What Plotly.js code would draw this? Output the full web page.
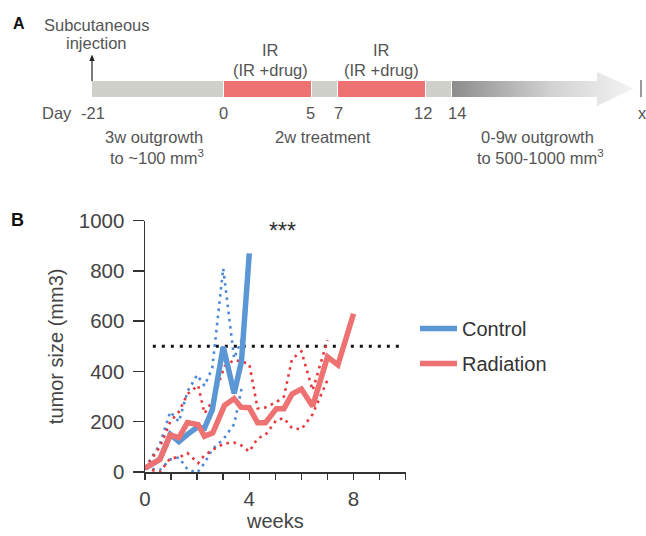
<!DOCTYPE html>
<html><head><meta charset="utf-8">
<script src="https://cdn.plot.ly/plotly-3.0.1.min.js"></script>
<style>html,body{margin:0;padding:0;background:#fff}#chart{width:646px;height:536px}</style>
</head><body><div id="chart"></div>
<script>
// ---------- DATA (panel B) ----------
const weeksControl   = [0, 0.57, 0.97, 1.3, 1.63, 2.0, 2.28, 2.58, 3.0, 3.42, 3.7, 4.0];
const controlMean    = [15, 50, 150, 121, 150, 178, 174, 247, 499, 313, 440, 870];
const controlUpper   = [15, 110, 240, 200, 320, 386, 343, 413, 810, 452, 525];
const controlLower   = [15, 8, 50, 58, 10, -3, 35, 90, 130, 190, 330];

const weeksRadiation = [0, 0.57, 0.97, 1.3, 1.63, 2.04, 2.28, 2.6, 3.05, 3.42, 3.68, 4.0, 4.32, 4.62, 5.04, 5.33, 5.64, 6.0, 6.43, 7.0, 7.4, 8.0];
const radiationMean  = [15, 50, 147, 137, 197, 188, 142, 156, 265, 292, 258, 256, 196, 196, 252, 252, 310, 330, 262, 458, 426, 630];
const radiationUpper = [15, 100, 200, 240, 310, 345, 233, 285, 420, 446, 440, 430, 253, 257, 278, 300, 450, 480, 325, 525];
const radiationLower = [15, 0, 55, 58, 75, 35, 66, 88, 114, 117, 107, 81, 134, 147, 207, 214, 174, 170, 230, 366];

const threshold = 500;
const seriesNames = ['Control', 'Radiation'];
const yTicks = [0, 200, 400, 600, 800, 1000];
const xTickLabels = [0, 4, 8];

// ---------- DATA (panel A schematic) ----------
const dayLabels = ['-21', '0', '5', '7', '12', '14', 'x'];
const phaseKinds = ['wait', 'IR', 'wait', 'IR', 'wait'];
const treatLabel = ['IR', '(IR +drug)'];
const phaseTexts = ['3w outgrowth', 'to ~100 mm<sup>3</sup>', '2w treatment', '0-9w outgrowth', 'to 500-1000 mm<sup>3</sup>'];

// ---------- LAYOUT CONSTANTS ----------
const W = 646, H = 536;
const FONT = '"Liberation Sans", Arial, sans-serif';
const TXT = '#555555';
const plotL = 145, plotR = 405.7, plotT = 220.7, plotB = 472;
const BLUE = '#5b96d5', RED = '#ef7272', BLUE_DOT = '#4d89d8', RED_DOT = '#e8383e';
// schematic pixel layout
const barTop = 81, barBot = 97;
const bounds = [92, 223, 311, 337, 425, 451];
const arrowBodyEnd = 597, arrowTip = 634;
const dayLabelX = [93, 223, 310, 338, 423, 457, 642];

const traces = [];
// threshold dotted line
traces.push({x: [0.3, 9.8], y: [threshold, threshold], xaxis: 'x', yaxis: 'y', mode: 'lines',
  line: {color: '#111', width: 3, dash: '3px,6px'}, showlegend: false, hoverinfo: 'skip'});
// bands
function band(x, y, c) {
  return {x: x.slice(0, y.length), y: y, xaxis: 'x', yaxis: 'y', mode: 'lines',
    line: {color: c, width: 2.6, dash: '2.6px,4.6px'}, showlegend: false, hoverinfo: 'skip'};
}
traces.push(band(weeksControl, controlUpper, BLUE_DOT));
traces.push(band(weeksControl, controlLower, BLUE_DOT));
traces.push(band(weeksRadiation, radiationUpper, RED_DOT));
traces.push(band(weeksRadiation, radiationLower, RED_DOT));
traces.push({x: weeksControl, y: controlMean, name: seriesNames[0], legendgroup: 'a', xaxis: 'x', yaxis: 'y',
  mode: 'lines', line: {color: BLUE, width: 5.5}});
traces.push({x: weeksRadiation, y: radiationMean, name: seriesNames[1], legendgroup: 'b', xaxis: 'x', yaxis: 'y',
  mode: 'lines', line: {color: RED, width: 5.5}});

// panel A gradient arrow
traces.push({x: [bounds[5] + 1, arrowBodyEnd, arrowBodyEnd, arrowTip, arrowBodyEnd, arrowBodyEnd, bounds[5] + 1, bounds[5] + 1],
  y: [barTop, barTop, 72, 88.5, 106, barBot, barBot, barTop], xaxis: 'x2', yaxis: 'y2', mode: 'lines',
  line: {width: 0}, fill: 'toself', fillcolor: '#bbbbbb',
  fillgradient: {type: 'horizontal', colorscale: [[0, '#8c8c8c'], [0.55, '#d2d2d2'], [1, '#f4f4f4']]},
  showlegend: false, hoverinfo: 'skip'});

const shapes = [];
phaseKinds.forEach((k, i) => {
  shapes.push({type: 'rect', xref: 'x2', yref: 'y2', x0: bounds[i] + (i ? 1 : 0), x1: bounds[i + 1],
    y0: barTop, y1: barBot, line: {width: 0}, fillcolor: k === 'IR' ? '#ee7272' : '#d0d0cb', layer: 'below'});
});
// end mark
shapes.push({type: 'line', xref: 'x2', yref: 'y2', x0: 641, x1: 641, y0: 80, y1: 97, line: {color: '#555', width: 1.2}});
// injection arrow
shapes.push({type: 'line', xref: 'x2', yref: 'y2', x0: 92, x1: 92, y0: 81, y1: 60, line: {color: '#222', width: 1.2}});
shapes.push({type: 'path', xref: 'x2', yref: 'y2', path: 'M89.3,61 L92,54.5 L94.7,61 Z', fillcolor: '#222', line: {width: 0}});

const annotations = [];
function A(x, y, text, opt) {
  annotations.push(Object.assign({xref: 'x2', yref: 'y2', x: x, y: y, text: text, showarrow: false,
    xanchor: 'center', yanchor: 'middle', font: {family: FONT, size: 16.5, color: TXT}}, opt || {}));
}
A(19, 23, '<b>A</b>', {font: {family: FONT, size: 16, color: '#111'}});
A(17, 220, '<b>B</b>', {font: {family: FONT, size: 18, color: '#111'}});
A(97, 25, 'Subcutaneous', {font: {family: FONT, size: 16.5, color: TXT}});
A(96, 42.5, 'injection', {font: {family: FONT, size: 16.5, color: TXT}});
[270, 381].forEach(cx => { A(cx, 50, treatLabel[0]); A(cx, 70, treatLabel[1]); });
A(57, 113, 'Day');
dayLabels.forEach((d, i) => A(dayLabelX[i], 113, d));
A(154, 137, phaseTexts[0]);
A(157, 157, phaseTexts[1]);
A(323, 137, phaseTexts[2]);
A(537, 137, phaseTexts[3]);
A(540, 157, phaseTexts[4]);
A(282, 231, '***', {font: {family: FONT, size: 23, color: '#333'}});

const axCommon = {showgrid: false, zeroline: false, showline: true, linecolor: '#333', linewidth: 1.5,
  ticks: 'outside', tickcolor: '#333', tickwidth: 1.5, tickfont: {family: FONT, size: 20.5, color: '#444'}, fixedrange: true};

const layout = {
  width: W, height: H, margin: {l: 0, r: 0, t: 0, b: 0}, paper_bgcolor: '#fff', plot_bgcolor: 'rgba(0,0,0,0)',
  font: {family: FONT, color: TXT},
  xaxis: Object.assign({}, axCommon, {domain: [plotL / W, plotR / W], range: [0, 10], anchor: 'y',
    tickmode: 'array', tickvals: xTickLabels, ticklen: 6, ticklabelstandoff: 2,
    minor: {tickmode: 'linear', tick0: 0, dtick: 1, ticks: 'outside', ticklen: 6, tickwidth: 1.5, tickcolor: '#333'},
    title: {text: 'weeks', font: {family: FONT, size: 20, color: '#444'}, standoff: 4}}),
  yaxis: Object.assign({}, axCommon, {domain: [(H - plotB) / H, (H - plotT) / H], range: [0, 1000], anchor: 'x',
    tickmode: 'array', tickvals: yTicks, ticklen: 11, ticklabelstandoff: 4,
    title: {text: 'tumor size (mm3)', font: {family: FONT, size: 20, color: '#444'}, standoff: 10}}),
  xaxis2: {domain: [0, 1], range: [0, W], visible: false, anchor: 'y2', fixedrange: true},
  yaxis2: {domain: [0, 1], range: [H, 0], autorange: false, visible: false, anchor: 'x2', fixedrange: true},
  showlegend: true,
  legend: {x: 415 / W, y: (H - 309) / H, xanchor: 'left', yanchor: 'top', bgcolor: 'rgba(0,0,0,0)',
    font: {family: FONT, size: 20, color: '#333'}, traceorder: 'grouped', tracegroupgap: 6, itemwidth: 37},
  shapes: shapes, annotations: annotations
};

Plotly.newPlot('chart', traces, layout, {displayModeBar: false, staticPlot: true});
</script></body></html>
